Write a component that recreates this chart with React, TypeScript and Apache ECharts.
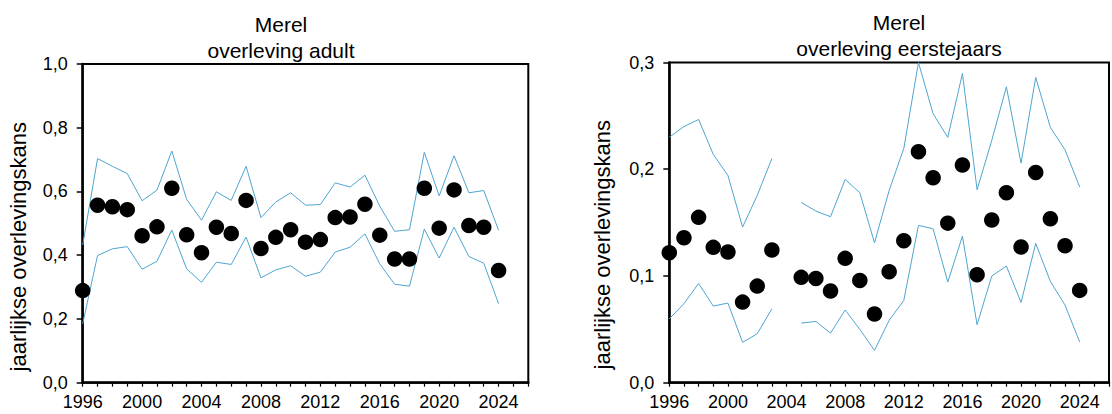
import React, { useEffect, useRef } from "react";
import * as echarts from "echarts";

const years = [1996, 1997, 1998, 1999, 2000, 2001, 2002, 2003, 2004, 2005, 2006, 2007, 2008, 2009, 2010, 2011, 2012, 2013, 2014, 2015, 2016, 2017, 2018, 2019, 2020, 2021, 2022, 2023, 2024];

const adultEst = [0.289, 0.557, 0.552, 0.543, 0.461, 0.489, 0.610, 0.464, 0.408, 0.488, 0.468, 0.572, 0.421, 0.456, 0.480, 0.441, 0.449, 0.518, 0.520, 0.560, 0.463, 0.388, 0.388, 0.610, 0.485, 0.605, 0.493, 0.488, 0.352];
const adultUpper = [0.432, 0.703, 0.679, 0.656, 0.571, 0.604, 0.727, 0.575, 0.510, 0.599, 0.572, 0.679, 0.518, 0.567, 0.596, 0.557, 0.559, 0.627, 0.614, 0.651, 0.554, 0.475, 0.480, 0.723, 0.586, 0.712, 0.596, 0.603, 0.478];
const adultLower = [0.185, 0.399, 0.420, 0.427, 0.356, 0.381, 0.479, 0.357, 0.315, 0.378, 0.371, 0.457, 0.329, 0.354, 0.367, 0.334, 0.347, 0.410, 0.425, 0.467, 0.373, 0.309, 0.303, 0.482, 0.391, 0.488, 0.396, 0.375, 0.248];

const juvEst = [0.1218, 0.1358, 0.1549, 0.1268, 0.1224, 0.0755, 0.0905, 0.1243, null, 0.0987, 0.0977, 0.0859, 0.1165, 0.0958, 0.0643, 0.1040, 0.1330, 0.2164, 0.1920, 0.1495, 0.2039, 0.1012, 0.1524, 0.1780, 0.1271, 0.1970, 0.1536, 0.1283, 0.0865];
const juvUpper = [0.230, 0.240, 0.2466, 0.2139, 0.1942, 0.1458, 0.1755, 0.2101, null, 0.1689, 0.1608, 0.1555, 0.1904, 0.1780, 0.1311, 0.1801, 0.2195, 0.300, 0.2520, 0.2298, 0.2897, 0.1808, 0.2270, 0.2772, 0.2057, 0.2860, 0.2392, 0.2182, 0.1833];
const juvLower = [0.0599, 0.0740, 0.0930, 0.0718, 0.0746, 0.0378, 0.0459, 0.0693, null, 0.0559, 0.0574, 0.0465, 0.0681, 0.0500, 0.0303, 0.0584, 0.0771, 0.1474, 0.1442, 0.0943, 0.1374, 0.0543, 0.0999, 0.1093, 0.0752, 0.1305, 0.0949, 0.0727, 0.0381];

const titleLine1 = "Merel";
const leftTitle2 = "overleving adult";
const rightTitle2 = "overleving eerstejaars";
const yName = "jaarlijkse overlevingskans";

const FONT = "'Liberation Sans', Arial, sans-serif";
const LINE_COLOR = "#4ea5cf";

const pairs = (vals: (number | null)[]) =>
  years.map((y, i) => [y, vals[i] === null ? "-" : vals[i]]);

export default function App() {
  const ref = useRef<HTMLDivElement>(null);
  useEffect(() => {
    if (!ref.current) return;
    const chart = echarts.init(ref.current, null, { renderer: "svg" });
    const xAxisBase = (gridIndex: number) => ({
      type: "value",
      gridIndex,
      min: 1996,
      max: 2026,
      interval: 1,
      splitLine: { show: false },
      axisLine: { show: true, lineStyle: { color: "#000", width: 2.5 } },
      axisTick: { show: true, inside: false, length: 4, lineStyle: { color: "#000", width: 1.2 } },
      axisLabel: {
        color: "#000",
        fontFamily: FONT,
        fontSize: 18,
        margin: 10,
        interval: 0,
        hideOverlap: false,
        formatter: (v: number) => ((v - 1996) % 4 === 0 && v <= 2024 ? String(v) : ""),
      },
    });
    const yAxisBase = (gridIndex: number, max: number, interval: number) => ({
      type: "value",
      gridIndex,
      min: 0,
      max,
      interval,
      splitLine: { show: false },
      axisLine: { show: true, lineStyle: { color: "#000", width: 2.5 } },
      axisTick: { show: true, inside: false, length: 6, lineStyle: { color: "#000", width: 1.5 } },
      axisLabel: {
        color: "#000",
        fontFamily: FONT,
        fontSize: 18,
        margin: 15,
        formatter: (v: number) => v.toFixed(1).replace(".", ","),
      },
    });
    const lineSeries = (idx: number, vals: (number | null)[]) => ({
      type: "line",
      xAxisIndex: idx,
      yAxisIndex: idx,
      data: pairs(vals),
      showSymbol: false,
      symbol: "none",
      connectNulls: false,
      lineStyle: { color: LINE_COLOR, width: 1 },
      z: 2,
    });
    const scatterSeries = (idx: number, vals: (number | null)[]) => ({
      type: "scatter",
      xAxisIndex: idx,
      yAxisIndex: idx,
      data: pairs(vals).filter((p) => p[1] !== "-"),
      symbol: "circle",
      symbolSize: 15.5,
      itemStyle: { color: "#000", opacity: 1 },
      z: 3,
    });
    chart.setOption({
      animation: false,
      backgroundColor: "#fff",
      grid: [
        { left: 82.7, top: 64, width: 445.6, height: 318.7, show: true, borderColor: "#000", borderWidth: 2, containLabel: false },
        { left: 669.3, top: 62.5, width: 453.6, height: 320.2, show: true, borderColor: "#000", borderWidth: 2, containLabel: false },
      ],
      xAxis: [xAxisBase(0), xAxisBase(1)],
      yAxis: [yAxisBase(0, 1.0, 0.2), yAxisBase(1, 0.3, 0.1)],
      series: [
        lineSeries(0, adultUpper),
        lineSeries(0, adultLower),
        scatterSeries(0, adultEst),
        lineSeries(1, juvUpper),
        lineSeries(1, juvLower),
        scatterSeries(1, juvEst),
      ],
      graphic: [
        { type: "text", x: 281, y: 24.7, style: { text: titleLine1, font: `21px ${FONT}`, fill: "#000", align: "center", verticalAlign: "middle" } },
        { type: "text", x: 281, y: 50.5, style: { text: leftTitle2, font: `21px ${FONT}`, fill: "#000", align: "center", verticalAlign: "middle" } },
        { type: "text", x: 899, y: 22, style: { text: titleLine1, font: `21px ${FONT}`, fill: "#000", align: "center", verticalAlign: "middle" } },
        { type: "text", x: 899, y: 48.4, style: { text: rightTitle2, font: `21px ${FONT}`, fill: "#000", align: "center", verticalAlign: "middle" } },
        { type: "text", x: 18, y: 246.7, rotation: Math.PI / 2, style: { text: yName, font: `22px ${FONT}`, fill: "#000", align: "center", verticalAlign: "middle" } },
        { type: "text", x: 602.5, y: 244.7, rotation: Math.PI / 2, style: { text: yName, font: `22px ${FONT}`, fill: "#000", align: "center", verticalAlign: "middle" } },
      ],
    });
    return () => chart.dispose();
  }, []);
  return (
    <div
      ref={ref}
      style={{ position: "fixed", left: 0, top: 0, width: 1112, height: 414, background: "#fff" }}
    />
  );
}
